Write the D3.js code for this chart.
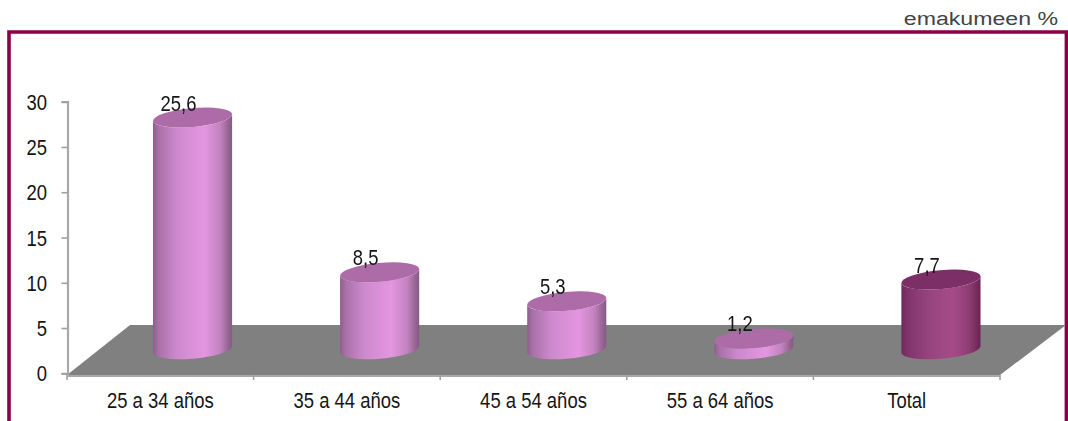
<!DOCTYPE html>
<html><head><meta charset="utf-8">
<script src="https://cdn.jsdelivr.net/npm/d3@7"></script>
<style>html,body{margin:0;padding:0;background:#fff}svg{display:block}</style></head>
<body><svg id="c" width="1068" height="421"></svg>
<script>
const categories = ["25 a 34 años","35 a 44 años","45 a 54 años","55 a 64 años","Total"];
const values = [25.6,8.5,5.3,1.2,7.7];
const valueLabels = ["25,6","8,5","5,3","1,2","7,7"];
const yTicks = [0,5,10,15,20,25,30];
const unitLabel = "emakumeen %";

const FONT = "'Liberation Sans',Arial,sans-serif";
const SX = 0.84;
const svg = d3.select("#c");
const defs = svg.append("defs");
function grad(id, stops){
  const g = defs.append("linearGradient").attr("id",id).attr("x1","0").attr("x2","1").attr("y1","0").attr("y2","0");
  stops.forEach(s=>g.append("stop").attr("offset",s[0]).attr("stop-color",s[1]));
}
grad("pink",[[0,"#8d5e8c"],[.07,"#a971a8"],[.3,"#cd89cd"],[.65,"#e496e0"],[.85,"#c282bf"],[.96,"#93628f"],[1,"#855a84"]]);
grad("plum",[[0,"#6e2a5a"],[.1,"#83356c"],[.35,"#96447e"],[.65,"#a64b88"],[.85,"#8f3d74"],[1,"#6b2454"]]);
defs.append("filter").attr("id","soft").append("feGaussianBlur").attr("stdDeviation",0.5);

// frame
svg.append("path").attr("d","M9,421V32H1066.4V421").attr("fill","none").attr("stroke","#8b0046").attr("stroke-width",3.6);
svg.append("text").attr("transform","translate(1058,25) scale(1.3,1)").attr("text-anchor","end")
  .attr("font-family",FONT).attr("font-size",17.8).attr("fill","#444").text(unitLabel);

const x = d3.scaleBand().domain(categories).range([67,1000]);
const barX = d3.scaleBand().domain(categories).range([99,1034.5]);
const y = d3.scaleLinear().domain([0,30]).range([373.3,101.7]);
const depth = {dy:24, backDx:63, backY:325};

// floor
const x0=x.range()[0], x1=x.range()[1];
svg.append("path").attr("d",`M${x0},375L${x0+depth.backDx},${depth.backY}H${x1+66}L${x1},375Z`).attr("fill","#808080");

// axes
const axisG = svg.append("g").attr("filter","url(#soft)");
const ay = axisG.append("g").attr("transform","translate(67.5,0)").call(d3.axisLeft(y).tickValues(yTicks).tickSize(6).tickFormat(""));
const ax = axisG.append("g").attr("transform","translate(0,375.5)").call(d3.axisBottom(x).tickSize(0).tickFormat(""));
[ay,ax].forEach(g=>{g.selectAll("path").attr("stroke","#a8a8a8").attr("stroke-width",2.2);g.selectAll("line").attr("stroke","#a0a0a0").attr("stroke-width",1.6);});
const xEdges = categories.map(c=>x(c)).concat([x1]);
axisG.selectAll("line.xt").data(xEdges).join("line").attr("class","xt")
  .attr("x1",d=>d).attr("x2",d=>d).attr("y1",375).attr("y2",380).attr("stroke","#a0a0a0").attr("stroke-width",1.6);

function narrow(sel, fx, fy){
  sel.attr("transform",d=>`translate(${fx(d)},${fy(d)}) scale(${SX},1)`)
    .attr("font-family",FONT).attr("font-size",22).attr("fill","#151515");
}
svg.append("g").selectAll("text").data(yTicks).join("text").attr("text-anchor","end")
  .call(narrow,()=>47,d=>y(d)+8).text(d=>d);
svg.append("g").selectAll("text").data(categories).join("text").attr("text-anchor","middle")
  .call(narrow,d=>x(d)+x.bandwidth()/2,()=>408).text(d=>d);

// cylinders
const A=39.7,B=9.4,TH=-5*Math.PI/180;
const tx=Math.atan(-(B/A)*Math.tan(TH));
const ex=A*Math.cos(tx)*Math.cos(TH)-B*Math.sin(tx)*Math.sin(TH);
const ey=A*Math.cos(tx)*Math.sin(TH)+B*Math.sin(tx)*Math.cos(TH);
const deg=TH*180/Math.PI;
const rows = categories.map((c,i)=>({c,v:values[i],l:valueLabels[i]}));
const bars = svg.append("g").attr("filter","url(#soft)").selectAll("g").data(rows).join("g");
bars.each(function(d){
  const g=d3.select(this);
  const cx=barX(d.c)+barX.bandwidth()/2;
  const top=y(d.v)-depth.dy, bot=y(0)-depth.dy;
  const total=d.c==="Total";
  g.append("path").attr("d",
    `M${cx-ex},${top-ey}L${cx-ex},${bot-ey}A${A},${B} ${deg} 0 0 ${cx+ex},${bot+ey}L${cx+ex},${top+ey}A${A},${B} ${deg} 0 1 ${cx-ex},${top-ey}Z`)
    .attr("fill",total?"url(#plum)":"url(#pink)");
  g.append("ellipse").attr("cx",cx).attr("cy",top).attr("rx",A).attr("ry",B)
    .attr("transform",`rotate(${deg} ${cx} ${top})`).attr("fill",total?"#7b2f66":"#ad6ca8");
});
svg.append("g").selectAll("text").data(rows).join("text").attr("text-anchor","middle")
  .call(narrow,d=>barX(d.c)+barX.bandwidth()/2-14,d=>y(d.v)-depth.dy-7).text(d=>d.l);
</script></body></html>
